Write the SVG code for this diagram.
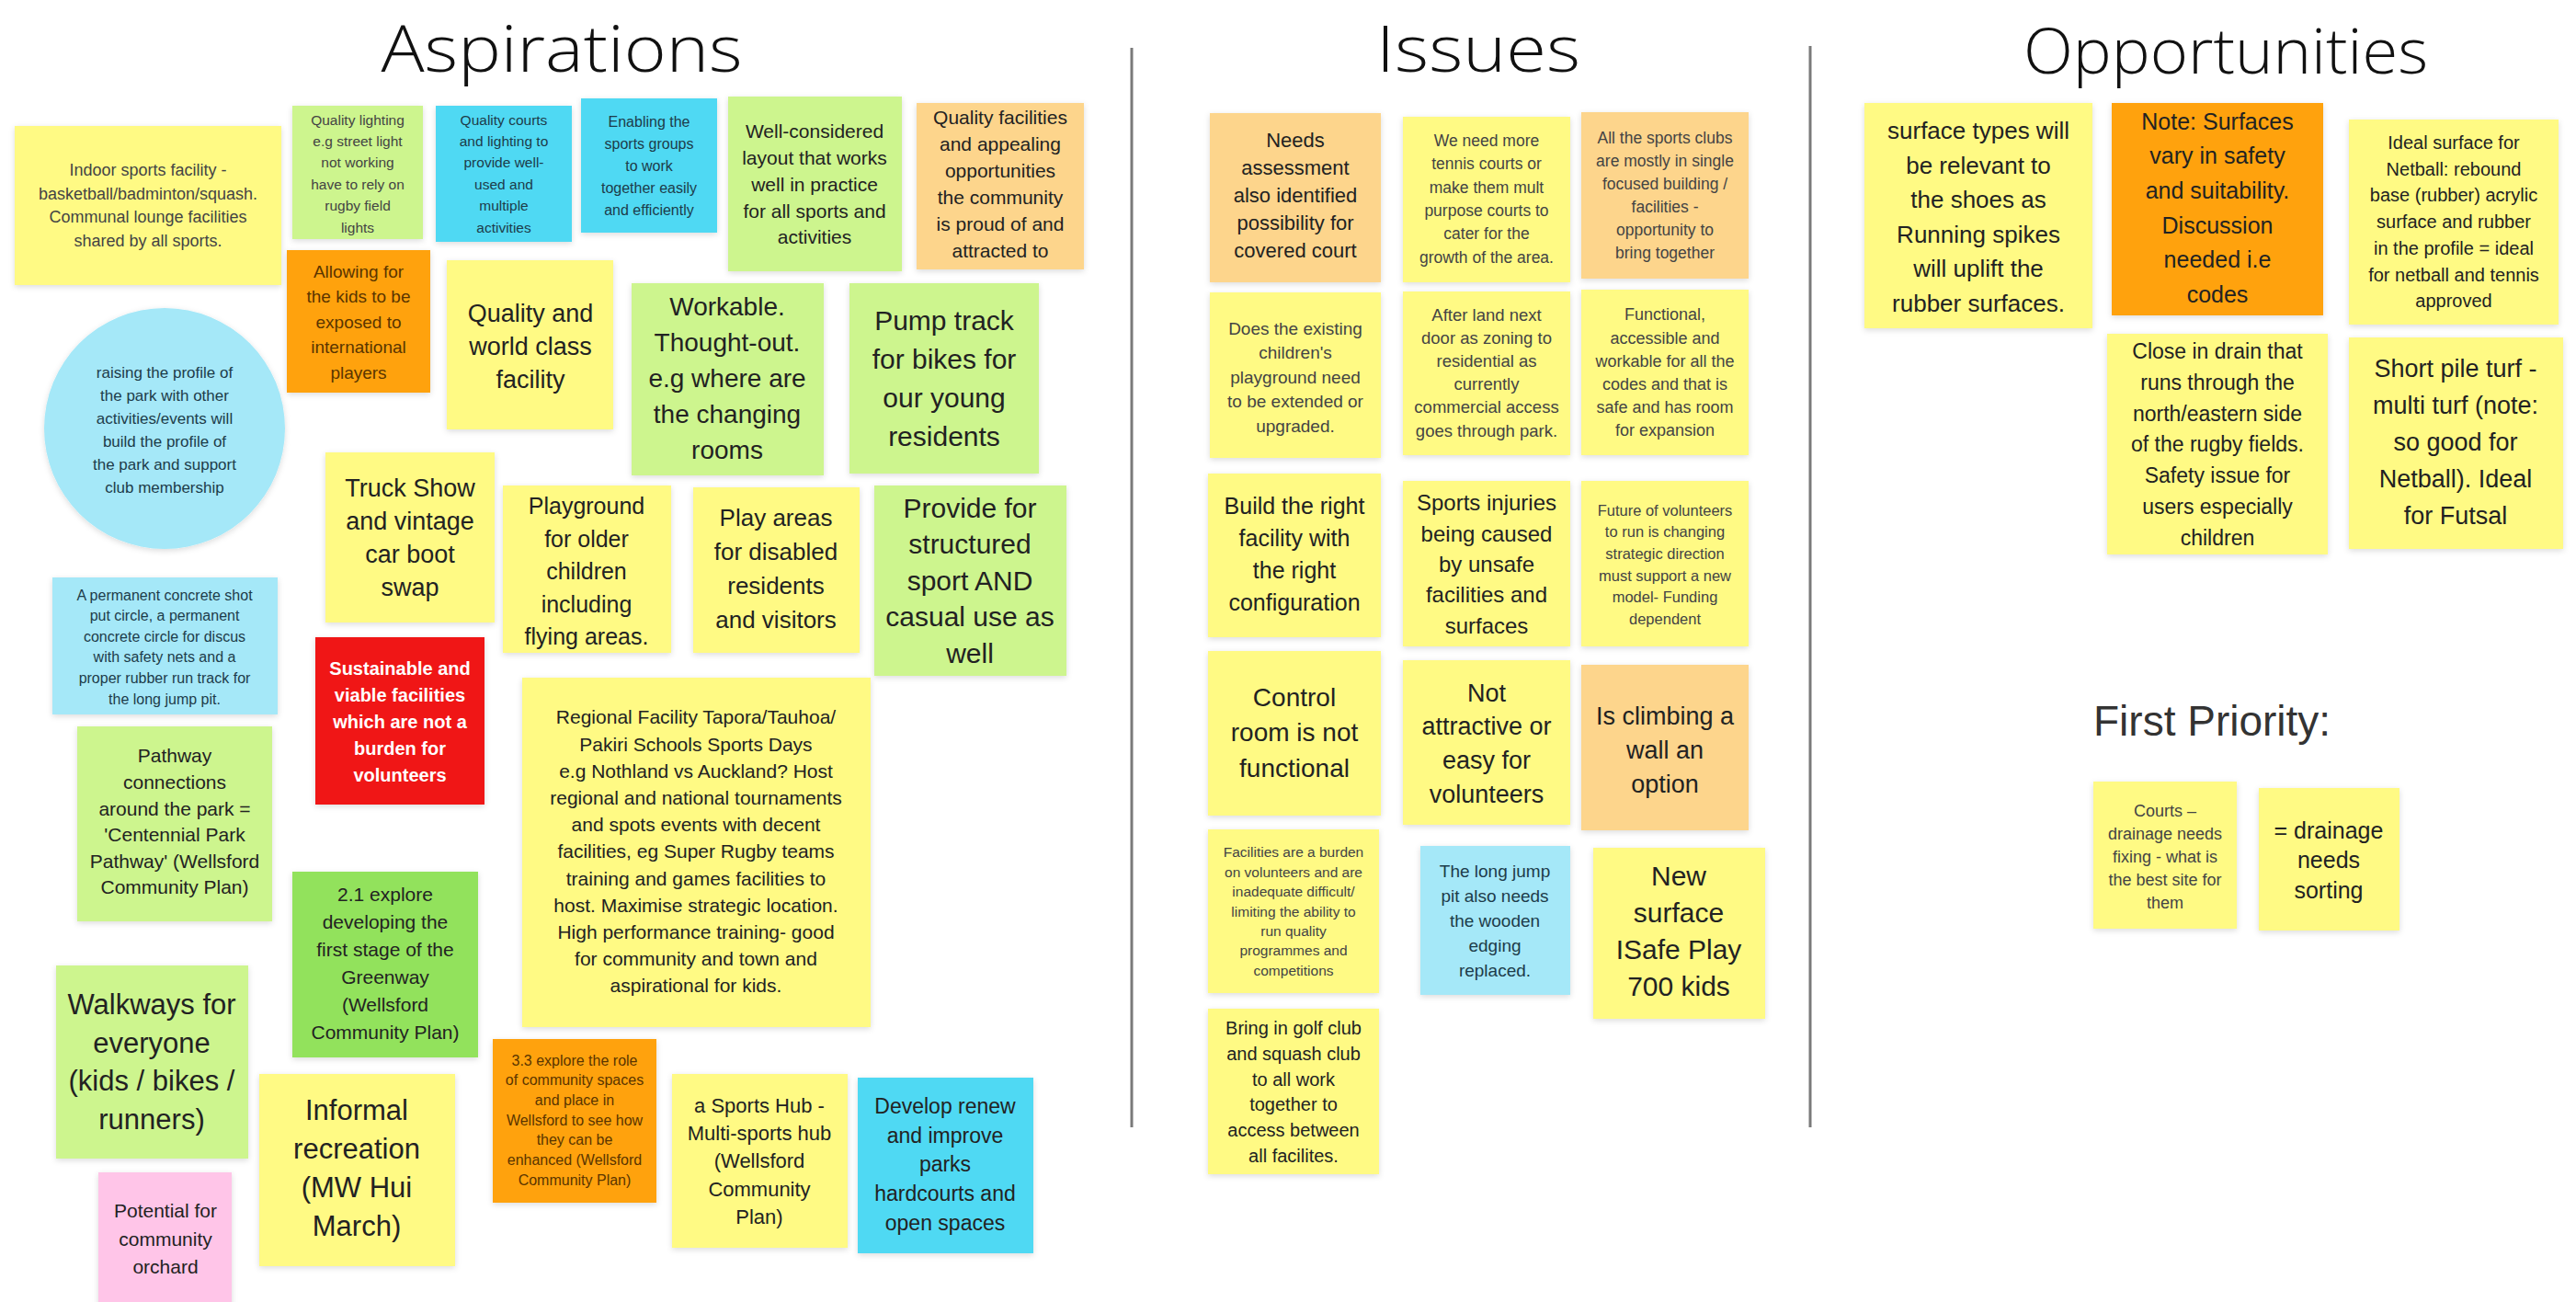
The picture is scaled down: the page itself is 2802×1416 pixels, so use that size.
<svg xmlns="http://www.w3.org/2000/svg" width="2802" height="1416" viewBox="0 0 2802 1416">
<defs>
<filter id="sh" x="-10%" y="-10%" width="120%" height="125%">
<feDropShadow dx="0" dy="2" stdDeviation="3" flood-color="#000" flood-opacity="0.14"/>
</filter>
</defs>
<style>
.n{filter:url(#sh)}
.y{fill:#FFFA84}.lo{fill:#FDD58C}.o{fill:#FFA20F}.lg{fill:#CDF58E}.g{fill:#92E25C}.c{fill:#4FD9F3}.lb{fill:#A5E8F8}.r{fill:#F01414}.p{fill:#FFC5E8}
text{font-family:"Liberation Sans",Arial,sans-serif;text-anchor:middle;fill:#222}
.s{fill:#444}.bl{fill:#1d3c4a}.br{fill:#5a3500}.w{fill:#fff;font-weight:bold}
.title{font-family:"Open Sans","Liberation Sans",sans-serif;font-weight:300;fill:#111}
</style>
<rect width="2802" height="1416" fill="#fff"/>
<g id="titles">
<text class="title" x="611" y="78" font-size="70" textLength="393" lengthAdjust="spacingAndGlyphs">Aspirations</text>
<text class="title" x="1608" y="78" font-size="70" textLength="222" lengthAdjust="spacingAndGlyphs">Issues</text>
<text class="title" x="2421" y="80" font-size="68" textLength="440" lengthAdjust="spacingAndGlyphs">Opportunities</text>
</g>
<g id="dividers" stroke="#7a7a7a" stroke-width="3">
<line x1="1231" y1="52" x2="1231" y2="1226"/>
<line x1="1969" y1="50" x2="1969" y2="1226"/>
</g>
<g id="connectors"></g>

<!-- Aspirations -->
<g id="a1"><rect class="n y" x="16" y="137" width="290" height="173"/>
<text font-size="18" class="s" y="191"><tspan x="161">Indoor sports facility -</tspan><tspan x="161" dy="25.7">basketball/badminton/squash.</tspan><tspan x="161" dy="25.7">Communal lounge facilities</tspan><tspan x="161" dy="25.7">shared by all sports.</tspan></text></g>
<g id="a2"><rect class="n lg" x="318" y="115" width="142" height="145"/>
<text font-size="15.5" class="s" y="135.5"><tspan x="389">Quality lighting</tspan><tspan x="389" dy="23.4">e.g street light</tspan><tspan x="389" dy="23.4">not working</tspan><tspan x="389" dy="23.4">have to rely on</tspan><tspan x="389" dy="23.4">rugby field</tspan><tspan x="389" dy="23.4">lights</tspan></text></g>
<g id="a3"><rect class="n c" x="474" y="115" width="148" height="148"/>
<text font-size="15.5" class="bl" y="135.5"><tspan x="548">Quality courts</tspan><tspan x="548" dy="23.4">and lighting to</tspan><tspan x="548" dy="23.4">provide well-</tspan><tspan x="548" dy="23.4">used and</tspan><tspan x="548" dy="23.4">multiple</tspan><tspan x="548" dy="23.4">activities</tspan></text></g>
<g id="a4"><rect class="n c" x="632" y="107" width="148" height="146"/>
<text font-size="16" class="bl" y="137.6"><tspan x="706">Enabling the</tspan><tspan x="706" dy="24">sports groups</tspan><tspan x="706" dy="24">to work</tspan><tspan x="706" dy="24">together easily</tspan><tspan x="706" dy="24">and efficiently</tspan></text></g>
<g id="a5"><rect class="n lg" x="792" y="105" width="189" height="190"/>
<text font-size="21" y="150.4"><tspan x="886">Well-considered</tspan><tspan x="886" dy="28.7">layout that works</tspan><tspan x="886" dy="28.7">well in practice</tspan><tspan x="886" dy="28.7">for all sports and</tspan><tspan x="886" dy="28.7">activities</tspan></text></g>
<g id="a6"><rect class="n lo" x="997" y="112" width="182" height="181"/>
<text font-size="21" y="135.4"><tspan x="1088">Quality facilities</tspan><tspan x="1088" dy="29">and appealing</tspan><tspan x="1088" dy="29">opportunities</tspan><tspan x="1088" dy="29">the community</tspan><tspan x="1088" dy="29">is proud of and</tspan><tspan x="1088" dy="29">attracted to</tspan></text></g>
<g id="a7"><rect class="n o" x="312" y="272" width="156" height="155"/>
<text font-size="19" class="br" y="301.7"><tspan x="390">Allowing for</tspan><tspan x="390" dy="27.5">the kids to be</tspan><tspan x="390" dy="27.5">exposed to</tspan><tspan x="390" dy="27.5">international</tspan><tspan x="390" dy="27.5">players</tspan></text></g>
<g id="a8"><circle class="n lb" cx="179" cy="466" r="131"/>
<text font-size="17" class="bl" y="411"><tspan x="179">raising the profile of</tspan><tspan x="179" dy="25">the park with other</tspan><tspan x="179" dy="25">activities/events will</tspan><tspan x="179" dy="25">build the profile of</tspan><tspan x="179" dy="25">the park and support</tspan><tspan x="179" dy="25">club membership</tspan></text></g>
<g id="a9"><rect class="n y" x="486" y="283" width="181" height="184"/>
<text font-size="27" y="349.5"><tspan x="577">Quality and</tspan><tspan x="577" dy="36">world class</tspan><tspan x="577" dy="36">facility</tspan></text></g>
<g id="a10"><rect class="n lg" x="687" y="308" width="209" height="209"/>
<text font-size="28" y="342.8"><tspan x="791">Workable.</tspan><tspan x="791" dy="39">Thought-out.</tspan><tspan x="791" dy="39">e.g where are</tspan><tspan x="791" dy="39">the changing</tspan><tspan x="791" dy="39">rooms</tspan></text></g>
<g id="a11"><rect class="n lg" x="924" y="308" width="206" height="207"/>
<text font-size="30" y="358.5"><tspan x="1027">Pump track</tspan><tspan x="1027" dy="42.3">for bikes for</tspan><tspan x="1027" dy="42.3">our young</tspan><tspan x="1027" dy="42.3">residents</tspan></text></g>
<g id="a12"><rect class="n y" x="354" y="492" width="184" height="185"/>
<text font-size="27" y="539.5"><tspan x="446">Truck Show</tspan><tspan x="446" dy="36">and vintage</tspan><tspan x="446" dy="36">car boot</tspan><tspan x="446" dy="36">swap</tspan></text></g>
<g id="a13"><rect class="n y" x="547" y="528" width="183" height="182"/>
<text font-size="25" y="559"><tspan x="638">Playground</tspan><tspan x="638" dy="35.5">for older</tspan><tspan x="638" dy="35.5">children</tspan><tspan x="638" dy="35.5">including</tspan><tspan x="638" dy="35.5">flying areas.</tspan></text></g>
<g id="a14"><rect class="n y" x="754" y="530" width="181" height="180"/>
<text font-size="26" y="572"><tspan x="844">Play areas</tspan><tspan x="844" dy="37">for disabled</tspan><tspan x="844" dy="37">residents</tspan><tspan x="844" dy="37">and visitors</tspan></text></g>
<g id="a15"><rect class="n lg" x="951" y="528" width="209" height="207"/>
<text font-size="30" y="562.5"><tspan x="1055">Provide for</tspan><tspan x="1055" dy="39.5">structured</tspan><tspan x="1055" dy="39.5">sport AND</tspan><tspan x="1055" dy="39.5">casual use as</tspan><tspan x="1055" dy="39.5">well</tspan></text></g>
<g id="a16"><rect class="n lb" x="57" y="628" width="245" height="149"/>
<text font-size="16" class="bl" y="652.6"><tspan x="179">A permanent concrete shot</tspan><tspan x="179" dy="22.6">put circle, a permanent</tspan><tspan x="179" dy="22.6">concrete circle for discus</tspan><tspan x="179" dy="22.6">with safety nets and a</tspan><tspan x="179" dy="22.6">proper rubber run track for</tspan><tspan x="179" dy="22.6">the long jump pit.</tspan></text></g>
<g id="a17"><rect class="n r" x="343" y="693" width="184" height="182"/>
<text font-size="20" class="w" y="734"><tspan x="435">Sustainable and</tspan><tspan x="435" dy="29">viable facilities</tspan><tspan x="435" dy="29">which are not a</tspan><tspan x="435" dy="29">burden for</tspan><tspan x="435" dy="29">volunteers</tspan></text></g>
<g id="a18"><rect class="n lg" x="84" y="790" width="212" height="212"/>
<text font-size="21" y="829.3"><tspan x="190">Pathway</tspan><tspan x="190" dy="28.6">connections</tspan><tspan x="190" dy="28.6">around the park =</tspan><tspan x="190" dy="28.6">'Centennial Park</tspan><tspan x="190" dy="28.6">Pathway' (Wellsford</tspan><tspan x="190" dy="28.6">Community Plan)</tspan></text></g>
<g id="a19"><rect class="n y" x="568" y="737" width="379" height="380"/>
<text font-size="21" y="787.3"><tspan x="757">Regional Facility Tapora/Tauhoa/</tspan><tspan x="757" dy="29.2">Pakiri Schools Sports Days</tspan><tspan x="757" dy="29.2">e.g Nothland vs Auckland? Host</tspan><tspan x="757" dy="29.2">regional and national tournaments</tspan><tspan x="757" dy="29.2">and spots events with decent</tspan><tspan x="757" dy="29.2">facilities, eg Super Rugby teams</tspan><tspan x="757" dy="29.2">training and games facilities to</tspan><tspan x="757" dy="29.2">host. Maximise strategic location.</tspan><tspan x="757" dy="29.2">High performance training- good</tspan><tspan x="757" dy="29.2">for community and town and</tspan><tspan x="757" dy="29.2">aspirational for kids.</tspan></text></g>
<g id="a20"><rect class="n g" x="318" y="948" width="202" height="202"/>
<text font-size="21" y="980.3"><tspan x="419">2.1 explore</tspan><tspan x="419" dy="30">developing the</tspan><tspan x="419" dy="30">first stage of the</tspan><tspan x="419" dy="30">Greenway</tspan><tspan x="419" dy="30">(Wellsford</tspan><tspan x="419" dy="30">Community Plan)</tspan></text></g>
<g id="a21"><rect class="n lg" x="61" y="1050" width="209" height="210"/>
<text font-size="31" y="1103"><tspan x="165">Walkways for</tspan><tspan x="165" dy="41.7">everyone</tspan><tspan x="165" dy="41.7">(kids / bikes /</tspan><tspan x="165" dy="41.7">runners)</tspan></text></g>
<g id="a22"><rect class="n o" x="536" y="1130" width="178" height="178"/>
<text font-size="16" class="br" y="1158.6"><tspan x="625">3.3 explore the role</tspan><tspan x="625" dy="21.7">of community spaces</tspan><tspan x="625" dy="21.7">and place in</tspan><tspan x="625" dy="21.7">Wellsford to see how</tspan><tspan x="625" dy="21.7">they can be</tspan><tspan x="625" dy="21.7">enhanced (Wellsford</tspan><tspan x="625" dy="21.7">Community Plan)</tspan></text></g>
<g id="a23"><rect class="n y" x="282" y="1168" width="213" height="209"/>
<text font-size="31" y="1218"><tspan x="388">Informal</tspan><tspan x="388" dy="42">recreation</tspan><tspan x="388" dy="42">(MW Hui</tspan><tspan x="388" dy="42">March)</tspan></text></g>
<g id="a24"><rect class="n y" x="731" y="1168" width="191" height="189"/>
<text font-size="22" y="1209.7"><tspan x="826">a Sports Hub -</tspan><tspan x="826" dy="30.3">Multi-sports hub</tspan><tspan x="826" dy="30.3">(Wellsford</tspan><tspan x="826" dy="30.3">Community</tspan><tspan x="826" dy="30.3">Plan)</tspan></text></g>
<g id="a25"><rect class="n c" x="933" y="1172" width="191" height="191"/>
<text font-size="23" y="1211"><tspan x="1028">Develop renew</tspan><tspan x="1028" dy="31.7">and improve</tspan><tspan x="1028" dy="31.7">parks</tspan><tspan x="1028" dy="31.7">hardcourts and</tspan><tspan x="1028" dy="31.7">open spaces</tspan></text></g>
<g id="a26"><rect class="n p" x="107" y="1275" width="145" height="145"/>
<text font-size="21" y="1324.3"><tspan x="180">Potential for</tspan><tspan x="180" dy="30.5">community</tspan><tspan x="180" dy="30.5">orchard</tspan></text></g>

<!-- Issues -->
<g id="i1"><rect class="n lo" x="1316" y="123" width="186" height="184"/>
<text font-size="22" y="159.7"><tspan x="1409">Needs</tspan><tspan x="1409" dy="30">assessment</tspan><tspan x="1409" dy="30">also identified</tspan><tspan x="1409" dy="30">possibility for</tspan><tspan x="1409" dy="30">covered court</tspan></text></g>
<g id="i2"><rect class="n y" x="1526" y="127" width="182" height="180"/>
<text font-size="17.5" class="s" y="159"><tspan x="1617">We need more</tspan><tspan x="1617" dy="25.3">tennis courts or</tspan><tspan x="1617" dy="25.3">make them mult</tspan><tspan x="1617" dy="25.3">purpose courts to</tspan><tspan x="1617" dy="25.3">cater for the</tspan><tspan x="1617" dy="25.3">growth of the area.</tspan></text></g>
<g id="i3"><rect class="n lo" x="1720" y="122" width="182" height="181"/>
<text font-size="17.5" class="s" y="156"><tspan x="1811">All the sports clubs</tspan><tspan x="1811" dy="25">are mostly in single</tspan><tspan x="1811" dy="25">focused building /</tspan><tspan x="1811" dy="25">facilities -</tspan><tspan x="1811" dy="25">opportunity to</tspan><tspan x="1811" dy="25">bring together</tspan></text></g>
<g id="i4"><rect class="n y" x="1316" y="318" width="186" height="180"/>
<text font-size="19" class="s" y="363.6"><tspan x="1409">Does the existing</tspan><tspan x="1409" dy="26.5">children's</tspan><tspan x="1409" dy="26.5">playground need</tspan><tspan x="1409" dy="26.5">to be extended or</tspan><tspan x="1409" dy="26.5">upgraded.</tspan></text></g>
<g id="i5"><rect class="n y" x="1526" y="317" width="182" height="178"/>
<text font-size="18.5" class="s" y="348.6"><tspan x="1617">After land next</tspan><tspan x="1617" dy="25.2">door as zoning to</tspan><tspan x="1617" dy="25.2">residential as</tspan><tspan x="1617" dy="25.2">currently</tspan><tspan x="1617" dy="25.2">commercial access</tspan><tspan x="1617" dy="25.2">goes through park.</tspan></text></g>
<g id="i6"><rect class="n y" x="1720" y="315" width="182" height="180"/>
<text font-size="18" class="s" y="348.3"><tspan x="1811">Functional,</tspan><tspan x="1811" dy="25.2">accessible and</tspan><tspan x="1811" dy="25.2">workable for all the</tspan><tspan x="1811" dy="25.2">codes and that is</tspan><tspan x="1811" dy="25.2">safe and has room</tspan><tspan x="1811" dy="25.2">for expansion</tspan></text></g>
<g id="i7"><rect class="n y" x="1314" y="515" width="188" height="178"/>
<text font-size="25" y="558.7"><tspan x="1408">Build the right</tspan><tspan x="1408" dy="35">facility with</tspan><tspan x="1408" dy="35">the right</tspan><tspan x="1408" dy="35">configuration</tspan></text></g>
<g id="i8"><rect class="n y" x="1526" y="523" width="182" height="180"/>
<text font-size="24" y="555.4"><tspan x="1617">Sports injuries</tspan><tspan x="1617" dy="33.3">being caused</tspan><tspan x="1617" dy="33.3">by unsafe</tspan><tspan x="1617" dy="33.3">facilities and</tspan><tspan x="1617" dy="33.3">surfaces</tspan></text></g>
<g id="i9"><rect class="n y" x="1720" y="523" width="182" height="180"/>
<text font-size="16.5" class="s" y="560.8"><tspan x="1811">Future of volunteers</tspan><tspan x="1811" dy="23.6">to run is changing</tspan><tspan x="1811" dy="23.6">strategic direction</tspan><tspan x="1811" dy="23.6">must support a new</tspan><tspan x="1811" dy="23.6">model- Funding</tspan><tspan x="1811" dy="23.6">dependent</tspan></text></g>
<g id="i10"><rect class="n y" x="1314" y="708" width="188" height="179"/>
<text font-size="28" y="767.8"><tspan x="1408">Control</tspan><tspan x="1408" dy="38.5">room is not</tspan><tspan x="1408" dy="38.5">functional</tspan></text></g>
<g id="i11"><rect class="n y" x="1526" y="718" width="182" height="179"/>
<text font-size="27" y="762.5"><tspan x="1617">Not</tspan><tspan x="1617" dy="36.7">attractive or</tspan><tspan x="1617" dy="36.7">easy for</tspan><tspan x="1617" dy="36.7">volunteers</tspan></text></g>
<g id="i12"><rect class="n lo" x="1720" y="723" width="182" height="180"/>
<text font-size="27" y="787.5"><tspan x="1811">Is climbing a</tspan><tspan x="1811" dy="37">wall an</tspan><tspan x="1811" dy="37">option</tspan></text></g>
<g id="i13"><rect class="n y" x="1314" y="902" width="186" height="178"/>
<text font-size="15.5" class="s" y="932.4"><tspan x="1407">Facilities are a burden</tspan><tspan x="1407" dy="21.4">on volunteers and are</tspan><tspan x="1407" dy="21.4">inadequate difficult/</tspan><tspan x="1407" dy="21.4">limiting the ability to</tspan><tspan x="1407" dy="21.4">run quality</tspan><tspan x="1407" dy="21.4">programmes and</tspan><tspan x="1407" dy="21.4">competitions</tspan></text></g>
<g id="i14"><rect class="n lb" x="1545" y="920" width="163" height="162"/>
<text font-size="19" class="bl" y="953.6"><tspan x="1626">The long jump</tspan><tspan x="1626" dy="27">pit also needs</tspan><tspan x="1626" dy="27">the wooden</tspan><tspan x="1626" dy="27">edging</tspan><tspan x="1626" dy="27">replaced.</tspan></text></g>
<g id="i15"><rect class="n y" x="1733" y="922" width="187" height="186"/>
<text font-size="30" y="962.5"><tspan x="1826">New</tspan><tspan x="1826" dy="40.3">surface</tspan><tspan x="1826" dy="40.3">ISafe Play</tspan><tspan x="1826" dy="40.3">700 kids</tspan></text></g>
<g id="i16"><rect class="n y" x="1314" y="1097" width="186" height="180"/>
<text font-size="20" y="1125"><tspan x="1407">Bring in golf club</tspan><tspan x="1407" dy="27.8">and squash club</tspan><tspan x="1407" dy="27.8">to all work</tspan><tspan x="1407" dy="27.8">together to</tspan><tspan x="1407" dy="27.8">access between</tspan><tspan x="1407" dy="27.8">all facilites.</tspan></text></g>

<!-- Opportunities -->
<g id="o1"><rect class="n y" x="2028" y="112" width="248" height="245"/>
<text font-size="26" y="151"><tspan x="2152">surface types will</tspan><tspan x="2152" dy="37.6">be relevant to</tspan><tspan x="2152" dy="37.6">the shoes as</tspan><tspan x="2152" dy="37.6">Running spikes</tspan><tspan x="2152" dy="37.6">will uplift the</tspan><tspan x="2152" dy="37.6">rubber surfaces.</tspan></text></g>
<g id="o2"><rect class="n o" x="2297" y="112" width="230" height="231"/>
<text font-size="25" y="140.8"><tspan x="2412">Note: Surfaces</tspan><tspan x="2412" dy="37.6">vary in safety</tspan><tspan x="2412" dy="37.6">and suitability.</tspan><tspan x="2412" dy="37.6">Discussion</tspan><tspan x="2412" dy="37.6">needed i.e</tspan><tspan x="2412" dy="37.6">codes</tspan></text></g>
<g id="o3"><rect class="n y" x="2555" y="130" width="228" height="223"/>
<text font-size="20" y="162"><tspan x="2669">Ideal surface for</tspan><tspan x="2669" dy="28.7">Netball: rebound</tspan><tspan x="2669" dy="28.7">base (rubber) acrylic</tspan><tspan x="2669" dy="28.7">surface and rubber</tspan><tspan x="2669" dy="28.7">in the profile = ideal</tspan><tspan x="2669" dy="28.7">for netball and tennis</tspan><tspan x="2669" dy="28.7">approved</tspan></text></g>
<g id="o4"><rect class="n y" x="2292" y="363" width="240" height="240"/>
<text font-size="23" y="390"><tspan x="2412">Close in drain that</tspan><tspan x="2412" dy="33.8">runs through the</tspan><tspan x="2412" dy="33.8">north/eastern side</tspan><tspan x="2412" dy="33.8">of the rugby fields.</tspan><tspan x="2412" dy="33.8">Safety issue for</tspan><tspan x="2412" dy="33.8">users especially</tspan><tspan x="2412" dy="33.8">children</tspan></text></g>
<g id="o5"><rect class="n y" x="2555" y="367" width="233" height="230"/>
<text font-size="27" y="409.5"><tspan x="2671">Short pile turf -</tspan><tspan x="2671" dy="40">multi turf (note:</tspan><tspan x="2671" dy="40">so good for</tspan><tspan x="2671" dy="40">Netball). Ideal</tspan><tspan x="2671" dy="40">for Futsal</tspan></text></g>
<g id="first-priority"><text x="2277" y="800" font-size="46" style="text-anchor:start;fill:#333">First Priority:</text></g>
<g id="o6"><rect class="n y" x="2277" y="850" width="156" height="160"/>
<text font-size="18" class="s" y="888.3"><tspan x="2355">Courts –</tspan><tspan x="2355" dy="25">drainage needs</tspan><tspan x="2355" dy="25">fixing - what is</tspan><tspan x="2355" dy="25">the best site for</tspan><tspan x="2355" dy="25">them</tspan></text></g>
<g id="o7"><rect class="n y" x="2457" y="857" width="153" height="155"/>
<text font-size="25" y="911.8"><tspan x="2533">= drainage</tspan><tspan x="2533" dy="32.5">needs</tspan><tspan x="2533" dy="32.5">sorting</tspan></text></g>
</svg>
